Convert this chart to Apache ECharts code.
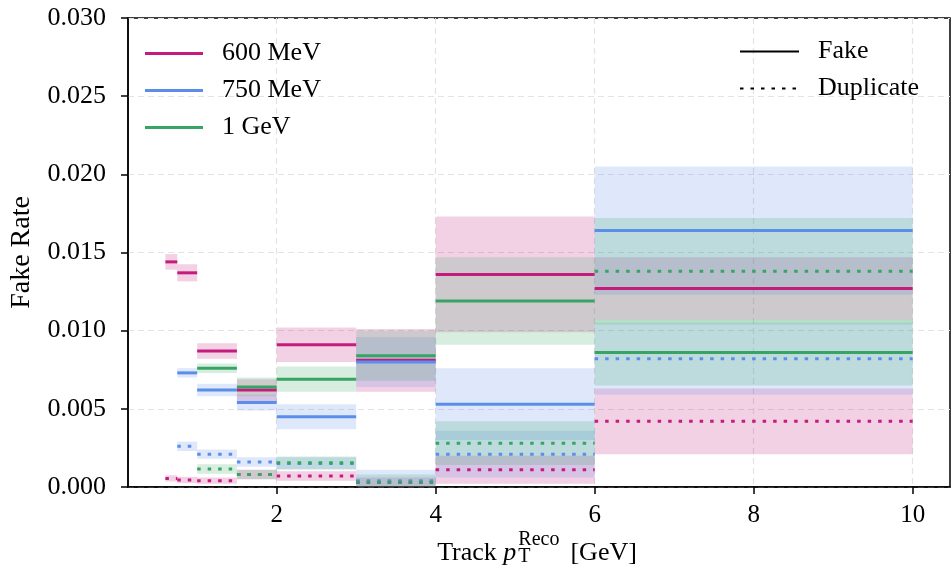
<!DOCTYPE html>
<html>
<head>
<meta charset="utf-8">
<script src="https://cdn.jsdelivr.net/npm/echarts@6/dist/echarts.min.js"></script>
<style>
  html, body { margin: 0; padding: 0; background: #fff; }
  #main { width: 951px; height: 571px; }
</style>
</head>
<body>
<div id="main"></div>
<script>
// bin edges in track pT [GeV]
var binLo = [0.6, 0.75, 1.0, 1.5, 2, 3, 4, 6];
var binHi = [0.75, 1.0, 1.5, 2, 3, 4, 6, 10];
var xTicks = [2, 4, 6, 8, 10];

// fake rate (solid) per threshold
var fake600 = [0.0144, 0.0137, 0.0087, 0.0062, 0.0091, 0.0081, 0.0136, 0.0127];
var fake600Err = [0.0005, 0.00055, 0.0005, 0.0007, 0.0011, 0.002, 0.0037, 0.002];
var fake750 = [null, 0.0073, 0.0062, 0.0054, 0.0045, 0.0080, 0.0053, 0.0164];
var fake750Err = [null, 0.0003, 0.0004, 0.0005, 0.0008, 0.0016, 0.0023, 0.0041];
var fake1G = [null, null, 0.0076, 0.0064, 0.0069, 0.0084, 0.0119, 0.0086];
var fake1GErr = [null, null, 0.0003, 0.0006, 0.0008, 0.0016, 0.0028, 0.0021];

// duplicate rate (dotted) per threshold
var dup600 = [0.00055, 0.00045, 0.0004, 0.0008, 0.0007, 0.0003, 0.0011, 0.0042];
var dup600Err = [0.0002, 0.0002, 0.0002, 0.0003, 0.0003, 0.0003, 0.0009, 0.0021];
var dup750 = [null, 0.0026, 0.0021, 0.0016, 0.0015, 0.0004, 0.0021, 0.0082];
var dup750Err = [null, 0.0003, 0.0003, 0.0003, 0.0004, 0.0007, 0.0015, 0.0023];
var dup1G = [null, null, 0.00115, 0.0008, 0.00155, 0.0003, 0.0028, 0.0138];
var dup1GErr = [null, null, 0.0003, 0.0003, 0.0004, 0.0005, 0.0014, 0.0034];

var colPink = '#c51b7d';
var colBlue = '#5a8ee8';
var colGreen = '#36a563';
var dotDash = [3.5, 7];
var serif = 'Liberation Serif';

function binData(vals, errs) {
  var out = [];
  for (var i = 0; i < vals.length; i++) {
    if (vals[i] == null) continue;
    out.push([binLo[i], binHi[i], vals[i], errs[i]]);
  }
  return out;
}

// band + horizontal step for every bin
function makeRender(color, dash) {
  return function (params, api) {
    var lo = api.value(0), hi = api.value(1), v = api.value(2), e = api.value(3);
    var p1 = api.coord([lo, v + e]);
    var p2 = api.coord([hi, v - e]);
    var band = echarts.graphic.clipRectByRect({
      x: p1[0], y: p1[1], width: p2[0] - p1[0], height: p2[1] - p1[1]
    }, params.coordSys);
    var a = api.coord([lo, v]);
    var b = api.coord([hi, v]);
    var children = [];
    if (band) {
      children.push({ type: 'rect', shape: band, z2: 0,
        style: { fill: color, opacity: 0.2 } });
    }
    children.push({ type: 'line', z2: 10,
      shape: { x1: a[0], y1: a[1], x2: b[0], y2: b[1] },
      style: { stroke: color, lineWidth: 3, lineDash: dash, fill: null } });
    return { type: 'group', children: children };
  };
}

function binSeries(name, color, vals, errs, dash) {
  return {
    name: name,
    type: 'custom',
    itemStyle: { color: color },
    encode: { x: [0, 1], y: [2] },
    renderItem: makeRender(color, dash),
    data: binData(vals, errs)
  };
}

// x axis title with sub/superscript, laid out from measured widths
var ctx = document.createElement('canvas').getContext('2d');
function textW(str, font) { ctx.font = font; return ctx.measureText(str).width; }
var fMain = '26px "' + serif + '"';
var fItal = 'italic 26px "' + serif + '"';
var fSmall = '20px "' + serif + '"';
var w1 = textW('Track ', fMain), wp = textW('p', fItal) + 2;
var wScript = textW('Reco', fSmall) + 11;
var w3 = textW('[GeV]', fMain);
var x0 = 537 - (w1 + wp + wScript + w3) / 2;

var legendText = { fontFamily: serif, fontSize: 26, color: '#000', lineHeight: 26, padding: [0, 0, 0, 14] };

var myChart = echarts.init(document.getElementById('main'), null, { renderer: 'canvas' });
var option = {
  animation: false,
  grid: {
    left: 124, right: 1, top: 18, bottom: 84,
    show: true, borderColor: '#000', borderWidth: 1.5
  },
  legend: [{
    data: ['600 MeV', '750 MeV', '1 GeV'],
    orient: 'vertical', left: 145, top: 40.5, padding: 0,
    icon: 'rect', itemWidth: 58, itemHeight: 3, itemGap: 11,
    textStyle: legendText
  }, {
    data: ['Fake', 'Duplicate'],
    orient: 'vertical', left: 739, top: 38.5, padding: 0,
    itemWidth: 59, itemHeight: 14, itemGap: 11,
    itemStyle: { opacity: 0 },
    lineStyle: { opacity: 1 },
    textStyle: legendText
  }],
  xAxis: {
    type: 'value', min: 0.13, max: 10.47,
    axisLine: { onZero: false, lineStyle: { color: '#000', width: 1.5 } },
    axisTick: { customValues: xTicks, length: 7, lineStyle: { color: '#000', width: 1.5 } },
    axisLabel: { customValues: xTicks, margin: 16, fontFamily: serif, fontSize: 25, color: '#000' },
    splitLine: { show: true, lineStyle: { color: '#e3e3e3', type: [6, 4], width: 1.2 } }
  },
  yAxis: {
    type: 'value', min: 0, max: 0.03, interval: 0.005,
    name: 'Fake Rate', nameLocation: 'middle', nameGap: 92,
    nameTextStyle: { fontFamily: serif, fontSize: 28, color: '#000' },
    axisLine: { show: true, lineStyle: { color: '#000', width: 1.5 } },
    axisTick: { show: true, length: 7, lineStyle: { color: '#000', width: 1.5 } },
    axisLabel: { margin: 22, fontFamily: serif, fontSize: 26, color: '#000',
      formatter: function (v) { return v.toFixed(3); } },
    splitLine: { show: true, lineStyle: { color: '#e3e3e3', type: [6, 4], width: 1.2 } }
  },
  graphic: [
    { type: 'text', x: x0, y: 553, style: { text: 'Track', font: fMain, fill: '#000', verticalAlign: 'middle' } },
    { type: 'text', x: x0 + w1, y: 553, style: { text: 'p', font: fItal, fill: '#000', verticalAlign: 'middle' } },
    { type: 'text', x: x0 + w1 + wp, y: 540, style: { text: 'Reco', font: fSmall, fill: '#000', verticalAlign: 'middle' } },
    { type: 'text', x: x0 + w1 + wp, y: 557, style: { text: 'T', font: fSmall, fill: '#000', verticalAlign: 'middle' } },
    { type: 'text', x: x0 + w1 + wp + wScript, y: 553, style: { text: '[GeV]', font: fMain, fill: '#000', verticalAlign: 'middle' } }
  ],
  series: [
    binSeries('600 MeV', colPink, fake600, fake600Err, null),
    binSeries('600 MeV', colPink, dup600, dup600Err, dotDash),
    binSeries('750 MeV', colBlue, fake750, fake750Err, null),
    binSeries('750 MeV', colBlue, dup750, dup750Err, dotDash),
    binSeries('1 GeV', colGreen, fake1G, fake1GErr, null),
    binSeries('1 GeV', colGreen, dup1G, dup1GErr, dotDash),
    // legend entries for line styles only
    { name: 'Fake', type: 'line', data: [], symbol: 'none', color: '#000',
      lineStyle: { color: '#000', width: 3 } },
    { name: 'Duplicate', type: 'line', data: [], symbol: 'none', color: '#000',
      lineStyle: { color: '#000', width: 3, type: dotDash } }
  ]
};
myChart.setOption(option);
window.addEventListener('resize', myChart.resize);
</script>
</body>
</html>
